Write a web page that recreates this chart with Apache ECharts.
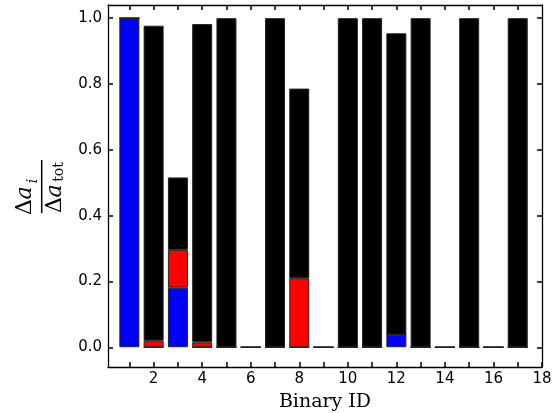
<!DOCTYPE html>
<html>
<head>
<meta charset="utf-8">
<script src="https://cdn.jsdelivr.net/npm/echarts@6/dist/echarts.min.js"></script>
<style>
html,body{margin:0;padding:0;background:#fff;}
#c{width:559px;height:413px;}
</style>
</head>
<body>
<div id="c"></div>
<script>
const binaryIds = [1,2,3,4,5,6,7,8,9,10,11,12,13,14,15,16,17];
const blueVals  = [1.0, 0, 0.181, 0, 0, 0, 0, 0, 0, 0, 0, 0.038, 0, 0, 0, 0, 0];
const redVals   = [0, 0.02, 0.115, 0.015, 0, 0, 0, 0.21, 0, 0, 0, 0, 0, 0, 0, 0, 0];
const blackVals = [0, 0.957, 0.22, 0.967, 1.0, 0, 1.0, 0.576, 0, 1.0, 1.0, 0.916, 1.0, 0, 1.0, 0, 1.0];
const xTickLabels = [2,4,6,8,10,12,14,16,18];
const xTicks = [1,2,3,4,5,6,7,8,9,10,11,12,13,14,15,16,17];
const yTicks = [0, 0.2, 0.4, 0.6, 0.8, 1.0];

const chart = echarts.init(document.getElementById('c'), null, {renderer:'canvas'});
const tickFont = {fontFamily:'DejaVu Sans', fontSize:15, color:'#000'};
const axLine = {show:true, onZero:false, lineStyle:{color:'#000', width:1.3}};
const tick = (vals)=>({show:true, inside:true, length:5, customValues:vals, lineStyle:{color:'#000', width:1.5}});
const xAll = xTicks.concat([18]);
function mk(vals, color){
  return {
    type:'bar', stack:'s', barWidth:20,
    xAxisIndex:0, yAxisIndex:0,
    encode:{x:1, y:0},
    data: binaryIds.map((x,i)=>[vals[i], x]),
    itemStyle:{color:color, borderColor:'#222', borderWidth:1},
    emphasis:{disabled:true}
  };
}
const serif = 'DejaVu Serif';
const rot = Math.PI/2;
function t(x,y,text,size,style){
  return {type:'text', x:x, y:y, rotation:rot, style:{text:text, fontFamily:serif, fontSize:size, fontStyle:style||'normal', fill:'#000', align:'center', verticalAlign:'middle'}};
}
chart.setOption({
  animation:false,
  grid:{left:108, right:17, top:5, bottom:46, containLabel:false},
  xAxis:[
    {type:'value', position:'bottom', min:0.12, max:18,
     axisLine:axLine, axisTick:tick(xAll), splitLine:{show:false},
     axisLabel:Object.assign({show:true, margin:5, customValues:xAll,
       formatter:(v)=> xTickLabels.indexOf(v) >= 0 ? String(v) : ''}, tickFont)},
    {type:'value', position:'top', min:0.12, max:18,
     axisLine:axLine, axisTick:tick(xTicks), splitLine:{show:false},
     axisLabel:{show:false, customValues:xTicks}}
  ],
  yAxis:[
    {type:'value', position:'left', min:-0.06, max:1.04,
     axisLine:axLine, axisTick:tick(yTicks), splitLine:{show:false},
     axisLabel:Object.assign({show:true, margin:6, customValues:yTicks, formatter:(v)=>v.toFixed(1)}, tickFont)},
    {type:'value', position:'right', min:-0.06, max:1.04,
     axisLine:axLine, axisTick:tick(yTicks), splitLine:{show:false},
     axisLabel:{show:false, customValues:yTicks}}
  ],
  series:[ mk(blueVals,'#0000ff'), mk(redVals,'#ff0000'), mk(blackVals,'#000000') ],
  graphic:[
    {type:'text', x:325, y:402, style:{text:'Binary ID', fontFamily:serif, fontSize:19, fill:'#000', align:'center', verticalAlign:'middle'}},
    t(25,207,'Δ',22),
    t(25,193,'a',22,'italic'),
    t(33,181,'i',14,'italic'),
    {type:'line', shape:{x1:41.7,y1:160,x2:41.7,y2:213}, style:{stroke:'#000', lineWidth:1.5}},
    t(55,205,'Δ',22),
    t(55,191,'a',22,'italic'),
    t(59,172,'tot',14)
  ]
});
</script>
</body>
</html>
